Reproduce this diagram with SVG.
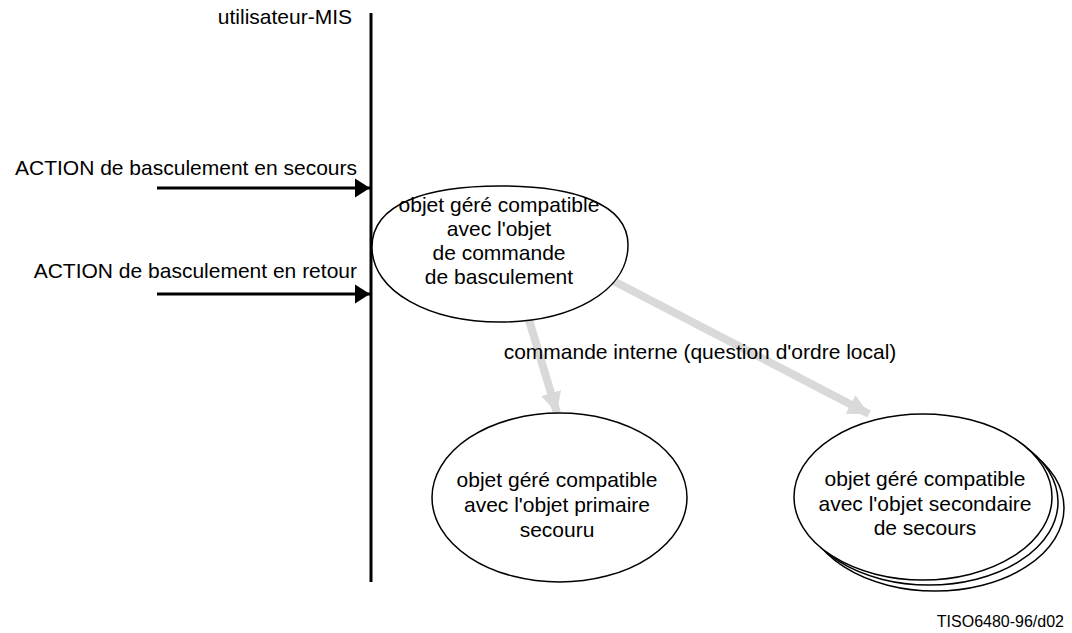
<svg xmlns="http://www.w3.org/2000/svg" width="1072" height="633" viewBox="0 0 1072 633">
<style>
text{font-family:"Liberation Sans",Arial,sans-serif;font-size:21px;fill:#000}
.c{text-anchor:middle}
.e{text-anchor:end}
.ell{fill:#fff;stroke:#000;stroke-width:1.5}
.blk{stroke:#000;stroke-width:3;fill:none}
.gry{stroke:#d9d9d9;stroke-width:8;fill:none}
</style>
<defs>
<marker id="ah" markerWidth="5" markerHeight="6.4" refX="5" refY="3.2" orient="auto" markerUnits="strokeWidth"><path d="M0,0 L5,3.2 L0,6.4 Z" fill="#000"/></marker>
<marker id="gh" markerWidth="2.6" markerHeight="2.6" refX="2.6" refY="1.3" orient="auto" markerUnits="strokeWidth"><path d="M0,0 L2.6,1.3 L0,2.6 Z" fill="#d9d9d9"/></marker>
</defs>
<g id="lifeline">
<line x1="371" y1="13" x2="371" y2="582" class="blk"/>
<text x="352" y="24" class="e">utilisateur-MIS</text>
</g>
<g id="connectors">
<line x1="157" y1="188" x2="370" y2="188" class="blk" marker-end="url(#ah)"/>
<line x1="157" y1="294" x2="370" y2="294" class="blk" marker-end="url(#ah)"/>
<line x1="526" y1="310" x2="557" y2="413" class="gry" marker-end="url(#gh)"/>
<line x1="600" y1="274" x2="869" y2="414" class="gry" marker-end="url(#gh)"/>
<text x="357" y="175" class="e">ACTION de basculement en secours</text>
<text x="357" y="278" class="e">ACTION de basculement en retour</text>
<text x="700" y="359" class="c">commande interne (question d'ordre local)</text>
</g>
<g id="node-commande">
<path d="M372,247 C372,203 428,186 500,186 C572,186 628,203 628,245 C628,292 570,322 500,322 C430,322 372,292 372,247 Z" class="ell"/>
<text x="499" y="212" class="c">objet géré compatible</text>
<text x="499" y="236" class="c">avec l'objet</text>
<text x="499" y="260" class="c">de commande</text>
<text x="499" y="284" class="c">de basculement</text>
</g>
<g id="node-primaire">
<ellipse cx="559.5" cy="497.5" rx="127.5" ry="84.5" class="ell"/>
<text x="557" y="487" class="c">objet géré compatible</text>
<text x="557" y="512" class="c">avec l'objet primaire</text>
<text x="557" y="537" class="c">secouru</text>
</g>
<g id="node-secondaire">
<ellipse cx="935" cy="508" rx="129" ry="83" class="ell"/>
<ellipse cx="929" cy="502" rx="129" ry="83" class="ell"/>
<ellipse cx="923" cy="497" rx="129" ry="83" class="ell"/>
<text x="925" y="486" class="c">objet géré compatible</text>
<text x="925" y="511" class="c">avec l'objet secondaire</text>
<text x="925" y="535" class="c">de secours</text>
</g>
<text x="1064" y="627" class="e" style="font-size:16px">TISO6480-96/d02</text>
</svg>
